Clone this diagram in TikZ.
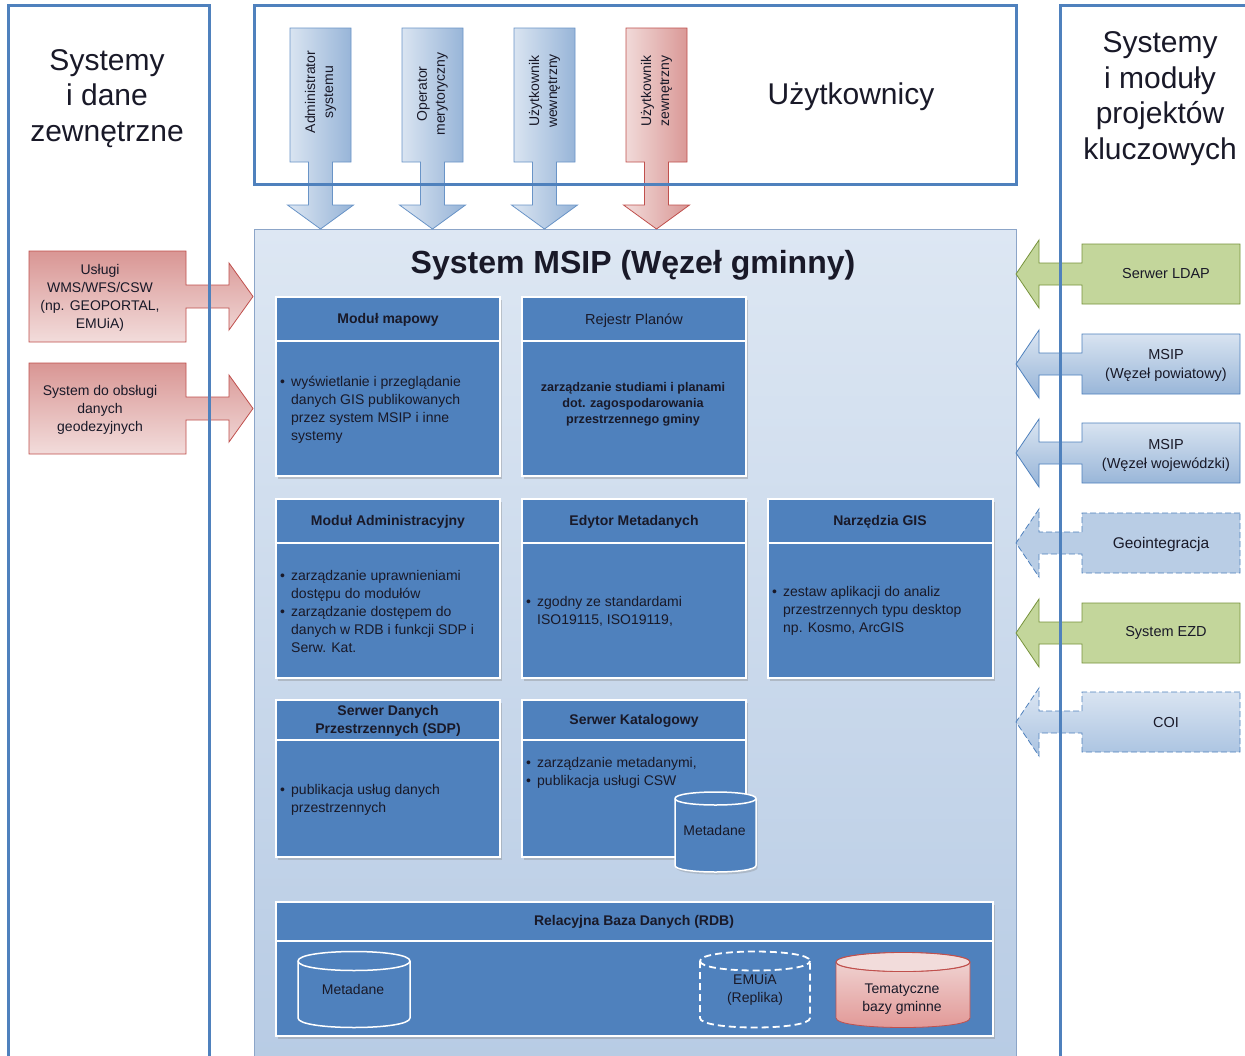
\documentclass[tikz,border=0pt]{standalone}
\usepackage{fontspec}
\setmainfont{Liberation Sans}
\usetikzlibrary{shadows}
\definecolor{pblue}{RGB}{79,129,189}
\definecolor{txt}{RGB}{25,25,40}
\definecolor{lb1}{RGB}{220,230,242}
\definecolor{lb2}{RGB}{149,179,215}
\definecolor{lb3}{RGB}{170,195,225}
\definecolor{mt}{RGB}{221,231,243}
\definecolor{mb}{RGB}{183,203,228}
\definecolor{mainedge}{RGB}{140,165,200}
\definecolor{rd1}{RGB}{217,150,148}
\definecolor{rd2}{RGB}{242,220,219}
\definecolor{rd3}{RGB}{225,150,148}
\definecolor{rdb}{RGB}{192,80,77}
\definecolor{gr}{RGB}{195,214,155}
\definecolor{grb}{RGB}{119,147,60}
\definecolor{geo}{RGB}{185,205,229}
\tikzset{
 panel/.style={draw=pblue, line width=3pt},
 uarrow/.style={draw=pblue!85, line width=0.8pt, left color=lb1, right color=lb2},
 uarrowred/.style={draw=rdb, line width=0.8pt, left color=rd2, right color=rd1},
 larrow/.style={draw=rdb, line width=0.8pt, top color=rd1, bottom color=rd2},
 rblue/.style={draw=pblue, line width=0.8pt, top color=lb1, bottom color=lb2},
 rgreen/.style={draw=grb, line width=0.8pt, fill=gr},
 rgeo/.style={draw=pblue, line width=0.8pt, dash pattern=on 6pt off 3pt, fill=geo},
 rcoi/.style={draw=pblue, line width=0.8pt, dash pattern=on 6pt off 3pt, top color=lb1, bottom color=lb3},
 modbox/.style={draw=white, line width=1.5pt, fill=pblue, inner sep=0pt, drop shadow={shadow xshift=1.5pt, shadow yshift=-2.5pt, opacity=0.35}},
 divline/.style={draw=white, line width=1.5pt},
 hdr/.style={font=\fontsize{14}{18}\selectfont\bfseries, align=center, inner sep=0pt},
 body/.style={font=\fontsize{14}{18}\selectfont, align=left, inner sep=0pt, anchor=west},
 lbl/.style={font=\fontsize{14}{18}\selectfont, align=center, inner sep=0pt},
 rlbl/.style={font=\fontsize{14.5}{19}\selectfont, align=center, inner sep=0pt},
 big/.style={font=\fontsize{30}{35.5}\selectfont, align=center, inner sep=0pt},
}
\newcommand\bul{\makebox[11pt][l]{•}}
\newcommand\ind{\hspace*{11pt}}
\newcommand\downarr[2]{%
 \path[#2] (#1,28) -- ({#1+61},28) -- ({#1+61},162) -- ({#1+42.5},162) -- ({#1+42.5},205) -- ({#1+63.5},205) -- ({#1+30.5},229) -- ({#1-2.5},205) -- ({#1+18.5},205) -- ({#1+18.5},162) -- (#1,162) -- cycle;}
\newcommand\leftarr[1]{%
 \path[larrow] (29,{#1-45.5}) -- (186,{#1-45.5}) -- (186,{#1-11.5}) -- (229,{#1-11.5}) -- (229,{#1-33.5}) -- (253,#1) -- (229,{#1+33.5}) -- (229,{#1+11.5}) -- (186,{#1+11.5}) -- (186,{#1+45.5}) -- (29,{#1+45.5}) -- cycle;}
\newcommand\rightbox[2]{%
 \path[#2] (1240,{#1-30}) -- (1082,{#1-30}) -- (1082,{#1-11}) -- (1039,{#1-11}) -- (1039,{#1-34}) -- (1016,#1) -- (1039,{#1+34}) -- (1039,{#1+11}) -- (1082,{#1+11}) -- (1082,{#1+30}) -- (1240,{#1+30}) -- cycle;}
% #1 fill style, #2 edge style, #3 x1, #4 x2, #5 yt, #6 yb, #7 ry
\newcommand\mycyl[7]{%
 \path[#1] (#3,#5) -- (#3,#6) .. controls (#3,{#6+1.333*#7}) and (#4,{#6+1.333*#7}) .. (#4,#6) -- (#4,#5) .. controls (#4,{#5-1.333*#7}) and (#3,{#5-1.333*#7}) .. (#3,#5) -- cycle;
 \path[#2] (#3,#5) -- (#3,#6) .. controls (#3,{#6+1.333*#7}) and (#4,{#6+1.333*#7}) .. (#4,#6) -- (#4,#5) .. controls (#4,{#5-1.333*#7}) and (#3,{#5-1.333*#7}) .. (#3,#5) -- cycle;
 \path[#2] (#3,#5) .. controls (#3,{#5+1.333*#7}) and (#4,{#5+1.333*#7}) .. (#4,#5);}
\begin{document}
\begin{tikzpicture}[x=1pt,y=-1pt,text=txt]
\useasboundingbox (0,0) rectangle (1245,1055);
\fill[white] (0,0) rectangle (1245,1055);
% main system box
\path[draw=mainedge, line width=0.8pt, top color=mt, bottom color=mb] (254,229) rectangle (1016,1075);
\node[font=\fontsize{32}{38}\selectfont\bfseries, inner sep=0pt] (title) at (633,265) {System MSIP (Węzeł gminny)};
% top arrows
\downarr{290}{uarrow}
\downarr{402}{uarrow}
\downarr{514}{uarrow}
\downarr{626}{uarrowred}
\node[lbl, rotate=90] (u1) at (320.5,92) {Administrator\\systemu};
\node[lbl, rotate=90] (u2) at (432.5,94) {Operator\\merytoryczny};
\node[lbl, rotate=90] (u3) at (544.5,91) {Użytkownik\\wewnętrzny};
\node[lbl, rotate=90] (u4) at (656.5,91) {Użytkownik\\zewnętrzny};
\node[big] (uzyt) at (851,97) {Użytkownicy};
% left arrows
\leftarr{296.5}
\leftarr{408.5}
\node[lbl] (wms) at (100,298) {Usługi\\WMS/WFS/CSW\\(np. GEOPORTAL,\\EMUiA)};
\node[lbl] (geod) at (100,410) {System do obsługi\\danych\\geodezyjnych};
% right arrows
\rightbox{274}{rgreen}
\rightbox{364}{rblue}
\rightbox{453}{rblue}
\rightbox{543}{rgeo}
\rightbox{633}{rgreen}
\rightbox{722}{rcoi}
\node[rlbl] (ldap) at (1166,274) {Serwer LDAP};
\node[rlbl] (pow) at (1166,365) {MSIP\\(Węzeł powiatowy)};
\node[rlbl] (woj) at (1166,455) {MSIP\\(Węzeł wojewódzki)};
\node[rlbl, font=\fontsize{15.5}{19}\selectfont] (geoi) at (1161,544) {Geointegracja};
\node[rlbl] (ezd) at (1166,633) {System EZD};
\node[rlbl] (coi) at (1166,722) {COI};
% panels
\draw[panel] (254,5) rectangle (1016,184);
\draw[panel] (8,1070) -- (8,5) -- (209,5) -- (209,1070);
\draw[panel] (1260,5) -- (1060,5) -- (1060,1070);
\node[big] (lt) at (107,98.5) {Systemy\\i dane\\zewnętrzne};
\node[big] (rt) at (1160,98.5) {Systemy\\i moduły\\projektów\\kluczowych};
% row 1
\node[modbox, minimum width=224pt, minimum height=179pt] (m1) at (388,386.5) {};
\draw[divline] (276,341) -- (500,341);
\node[hdr] (m1h) at (388,319.5) {Moduł mapowy};
\node[body] (m1b) at (280,410) {\bul wyświetlanie i przeglądanie\\\ind danych GIS publikowanych\\\ind przez system MSIP i inne\\\ind systemy};
\node[modbox, minimum width=224pt, minimum height=179pt] (m2) at (634,386.5) {};
\draw[divline] (522,341) -- (746,341);
\node[hdr, font=\fontsize{14.5}{18}\selectfont] (m2h) at (634,321) {Rejestr Planów};
\node[lbl, font=\fontsize{12.6}{16}\selectfont\bfseries] (m2b) at (633,404) {zarządzanie studiami i planami\\dot. zagospodarowania\\przestrzennego gminy};
% row 2
\node[modbox, minimum width=224pt, minimum height=179pt] (m3) at (388,588.5) {};
\draw[divline] (276,543) -- (500,543);
\node[hdr] (m3h) at (388,521.5) {Moduł Administracyjny};
\node[body] (m3b) at (280,611) {\bul zarządzanie uprawnieniami\\\ind dostępu do modułów\\\bul zarządzanie dostępem do\\\ind danych w RDB i funkcji SDP i\\\ind Serw. Kat.};
\node[modbox, minimum width=224pt, minimum height=179pt] (m4) at (634,588.5) {};
\draw[divline] (522,543) -- (746,543);
\node[hdr] (m4h) at (634,521.5) {Edytor Metadanych};
\node[body] (m4b) at (526,611) {\bul zgodny ze standardami\\\ind ISO19115, ISO19119,};
\node[modbox, minimum width=225pt, minimum height=179pt] (m5) at (880.5,588.5) {};
\draw[divline] (768,543) -- (993,543);
\node[hdr] (m5h) at (880,521.5) {Narzędzia GIS};
\node[body] (m5b) at (772,611) {\bul zestaw aplikacji do analiz\\\ind przestrzennych typu desktop\\\ind np. Kosmo, ArcGIS};
% row 3
\node[modbox, minimum width=224pt, minimum height=157pt] (m6) at (388,778.5) {};
\draw[divline] (276,740) -- (500,740);
\node[hdr] (m6h) at (388,721) {Serwer Danych\\Przestrzennych (SDP)};
\node[body] (m6b) at (280,800) {\bul publikacja usług danych\\\ind przestrzennych};
\node[modbox, minimum width=224pt, minimum height=157pt] (m7) at (634,778.5) {};
\draw[divline] (522,740) -- (746,740);
\node[hdr] (m7h) at (634,720.5) {Serwer Katalogowy};
\node[body] (m7b) at (526,773) {\bul zarządzanie metadanymi,\\\bul publikacja usługi CSW};
\mycyl{fill=pblue, drop shadow={shadow xshift=1.5pt, shadow yshift=-2.5pt, opacity=0.3}}{draw=white, line width=1.5pt}{675}{756}{798.5}{865.5}{6.5}
\node[lbl] (cat) at (714.5,830) {Metadane};
% RDB
\node[modbox, minimum width=717pt, minimum height=134pt] (rdb) at (634.5,969) {};
\draw[divline] (276,941) -- (993,941);
\node[hdr] (rdbh) at (634,921.5) {Relacyjna Baza Danych (RDB)};
\mycyl{fill=pblue}{draw=white, line width=1.5pt}{298}{410}{961}{1018}{9.5}
\node[lbl] (md) at (353,989) {Metadane};
\mycyl{fill=pblue}{draw=white, line width=1.8pt, dash pattern=on 7pt off 4pt}{700}{810}{961}{1018}{9.5}
\node[lbl] (emu) at (755,990) {EMUiA\\(Replika)};
\mycyl{top color=rd2, bottom color=rd3}{draw=rdb, line width=0.8pt}{836}{970}{962}{1018}{9.5}
\path[fill=rd2] (903,962) ellipse [x radius=66.5pt, y radius=9pt];
\path[draw=rdb, line width=0.8pt] (903,962) ellipse [x radius=67pt, y radius=9.5pt];
\node[lbl] (tem) at (902,999) {Tematyczne\\bazy gminne};
\end{tikzpicture}
\end{document}
